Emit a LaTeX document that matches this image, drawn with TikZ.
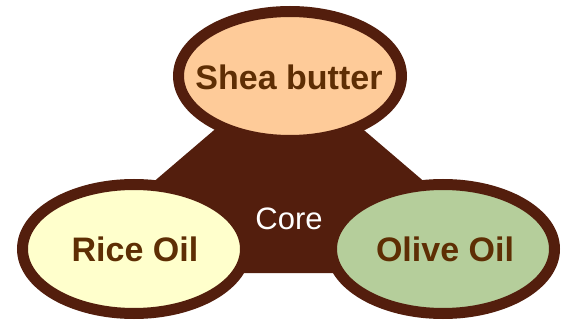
\documentclass[tikz,border=0pt]{standalone}
\usepackage{fontspec}
\setmainfont{Liberation Sans}
\usetikzlibrary{shapes.geometric}
\definecolor{brownline}{RGB}{83,30,13}
\definecolor{brownText}{RGB}{94,46,4}
\definecolor{peach}{RGB}{254,203,153}
\definecolor{cream}{RGB}{255,255,204}
\definecolor{sage}{RGB}{181,206,155}
\tikzset{
  oil/.style={ellipse, draw=brownline, line width=11pt, minimum width=223pt, minimum height=129pt, inner sep=0pt},
  oiltext/.style={text=brownText, inner sep=0pt, font=\fontsize{34}{38}\selectfont\bfseries},
}
\begin{document}
\begin{tikzpicture}[x=1pt,y=1pt]
\useasboundingbox (0,0) rectangle (563,-321);
\coordinate (apex) at (289,-66);
\coordinate (bl) at (47,-273);
\coordinate (br) at (531,-273);
\fill[brownline] (apex) -- (bl) -- (br) -- cycle;
\node[oil, fill=peach] (shea) at (290,-76) {};
\node[oil, fill=cream] (rice) at (134,-249) {};
\node[oil, fill=sage] (olive) at (443,-249) {};
\node[oiltext] (sheaT) at (289,-77) {Shea butter};
\node[oiltext] (riceT) at (135,-249) {Rice Oil};
\node[oiltext] (oliveT) at (445,-249) {Olive Oil};
\node[text=white, inner sep=0pt, font=\fontsize{31}{35}\selectfont] (core) at (289,-219) {Core};
\end{tikzpicture}
\end{document}
